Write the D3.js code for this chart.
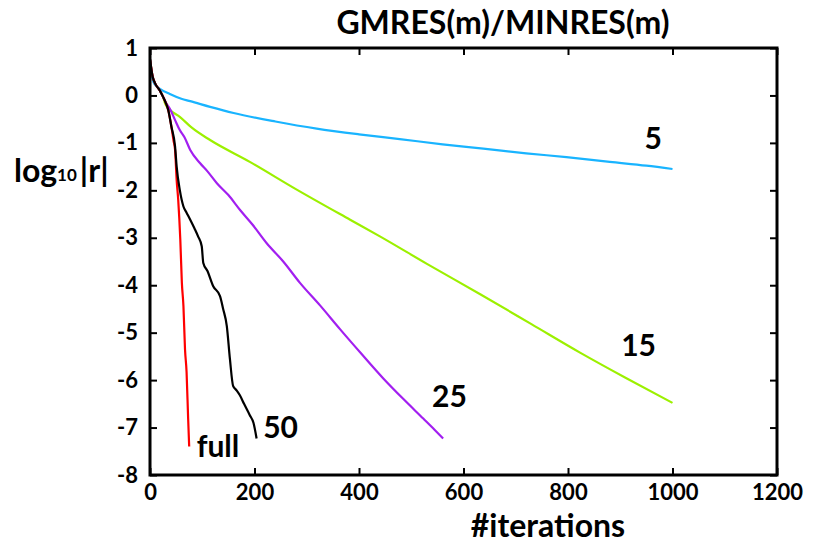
<!DOCTYPE html>
<html>
<head>
<meta charset="utf-8">
<script src="https://cdn.jsdelivr.net/npm/d3@7"></script>
<style>
  body { margin: 0; background: #fff; }
  svg text { font-family: Lato, "Noto Sans", sans-serif; font-weight: bold; fill: #000; }
</style>
</head>
<body>
<div id="chart"></div>
<script>
// residual history, [iteration, log10|r|]
const restart5 = [[0,0.76],[3,0.45],[6,0.3],[10,0.22],[19,0.14],[38,0.03],[60,-0.07],[77,-0.12],[115,-0.24],[160,-0.37],[240,-0.55],[319,-0.7],[400,-0.82],[478,-0.92],[560,-1.03],[638,-1.12],[720,-1.22],[797,-1.3],[880,-1.4],[950,-1.48],[1000,-1.55]];
const restart15 = [[0,0.76],[5,0.4],[10,0.25],[19,0.1],[25,-0.03],[29,-0.17],[38,-0.3],[57,-0.45],[80,-0.68],[115,-0.94],[191,-1.4],[280,-1.98],[383,-2.62],[440,-2.97],[530,-3.55],[632,-4.19],[730,-4.82],[823,-5.42],[910,-5.95],[1000,-6.48]];
const restart25 = [[0,0.76],[5,0.4],[10,0.25],[19,0.1],[25,-0.03],[33,-0.2],[38,-0.28],[48,-0.52],[57,-0.73],[66,-0.88],[77,-1.15],[96,-1.43],[110,-1.6],[128,-1.85],[150,-2.1],[172,-2.41],[196,-2.72],[223,-3.11],[255,-3.5],[287,-3.95],[325,-4.42],[364,-4.93],[405,-5.45],[447,-5.97],[485,-6.4],[523,-6.81],[545,-7.05],[561,-7.23]];
const restart50 = [[0,0.76],[5,0.4],[10,0.25],[19,0.1],[25,-0.03],[30,-0.15],[35,-0.31],[41,-0.66],[48,-1.08],[51,-1.5],[57,-1.99],[64,-2.34],[70,-2.47],[77,-2.62],[85,-2.8],[92,-2.97],[99,-3.18],[102,-3.53],[110,-3.7],[121,-4.02],[134,-4.23],[140,-4.5],[147,-4.86],[153,-5.56],[159,-6.12],[166,-6.22],[172,-6.32],[180,-6.5],[191,-6.74],[198,-6.9],[204,-7.23]];
const full = [[0,0.76],[5,0.4],[10,0.25],[19,0.1],[25,-0.03],[30,-0.15],[35,-0.31],[41,-0.66],[45,-0.95],[48,-1.15],[51,-1.78],[54,-2.2],[58,-3.04],[61,-3.95],[64,-4.44],[67,-5.35],[70,-5.83],[73,-6.81],[75,-7.4]];

// drawn in this order, so the restart-50 curve sits on top of "full"
const seriesNames = ["5", "15", "25", "full", "50"];
const seriesData = [restart5, restart15, restart25, full, restart50];
const seriesColors = ["#19b4ff", "#9cf000", "#a21ff0", "#ff0000", "#000000"];
// label anchors in data units
const labelPos = [[963,-1.13],[935,-5.49],[573,-6.56],[130,-7.63],[250,-7.21]];

const xTicks = [0, 200, 400, 600, 800, 1000, 1200];
const yTicks = [1, 0, -1, -2, -3, -4, -5, -6, -7, -8];

const W = 820, H = 544;
const box = { left: 150, right: 777, top: 48, bottom: 475 };

const svg = d3.select("#chart").append("svg")
    .attr("width", W).attr("height", H);

const x = d3.scaleLinear().domain([0, 1200]).range([box.left, box.right]);
const y = d3.scaleLinear().domain([-8, 1]).range([box.bottom, box.top]);

// lines
const line = d3.line()
    .x(d => x(d[0]))
    .y(d => y(d[1]))
    .curve(d3.curveMonotoneX);
svg.selectAll("path.series")
    .data(seriesData)
    .enter()
    .append("path")
    .attr("class", "series")
    .attr("d", line)
    .attr("fill", "none")
    .attr("stroke", (d, i) => seriesColors[i])
    .attr("stroke-width", 2.2)
    .attr("stroke-linejoin", "round");

// axes, ticks pointing inward
const plain = d => String(d);
function styleAxis(g) {
  g.select(".domain").remove();
  g.selectAll(".tick line").attr("stroke", "#000").attr("stroke-width", 2);
  g.selectAll(".tick text").style("font-size", "22px").attr("fill", "#000");
}

svg.append("g")
    .attr("transform", `translate(0,${box.bottom})`)
    .call(d3.axisBottom(x).tickValues(xTicks).tickFormat(plain).tickSizeInner(-7).tickSizeOuter(0).tickPadding(9))
    .call(styleAxis);

svg.append("g")
    .attr("transform", `translate(0,${box.top})`)
    .call(d3.axisTop(x).tickValues(xTicks).tickSizeInner(-7).tickSizeOuter(0).tickFormat(""))
    .call(styleAxis);

svg.append("g")
    .attr("transform", `translate(${box.left},0)`)
    .call(d3.axisLeft(y).tickValues(yTicks).tickFormat(plain).tickSizeInner(-7).tickSizeOuter(0).tickPadding(12))
    .call(styleAxis);

svg.append("g")
    .attr("transform", `translate(${box.right},0)`)
    .call(d3.axisRight(y).tickValues(yTicks).tickSizeInner(-7).tickSizeOuter(0).tickFormat(""))
    .call(styleAxis);

// frame
svg.append("rect")
    .attr("x", box.left).attr("y", box.top)
    .attr("width", box.right - box.left).attr("height", box.bottom - box.top)
    .attr("fill", "none")
    .attr("stroke", "#000")
    .attr("stroke-width", 3);

// series labels
svg.selectAll("text.lab")
    .data(seriesNames)
    .enter()
    .append("text")
    .attr("class", "lab")
    .attr("x", (d, i) => x(labelPos[i][0]))
    .attr("y", (d, i) => y(labelPos[i][1]))
    .attr("text-anchor", "middle")
    .style("font-size", "30px")
    .text(d => d);

// title
svg.append("text")
    .attr("x", 503).attr("y", 34)
    .attr("text-anchor", "middle")
    .style("font-size", "32px")
    .text("GMRES(m)/MINRES(m)");

// x label
svg.append("text")
    .attr("x", 548).attr("y", 537)
    .attr("text-anchor", "middle")
    .style("font-size", "32px")
    .text("#iterations");

// y label
const yl = svg.append("text")
    .attr("x", 14).attr("y", 182)
    .style("font-size", "32px");
yl.append("tspan").text("log");
yl.append("tspan").attr("dy", -1).style("font-size", "17px").text("10");
yl.append("tspan").attr("dy", 1).attr("dx", 3).text("|r|");
</script>
</body>
</html>
